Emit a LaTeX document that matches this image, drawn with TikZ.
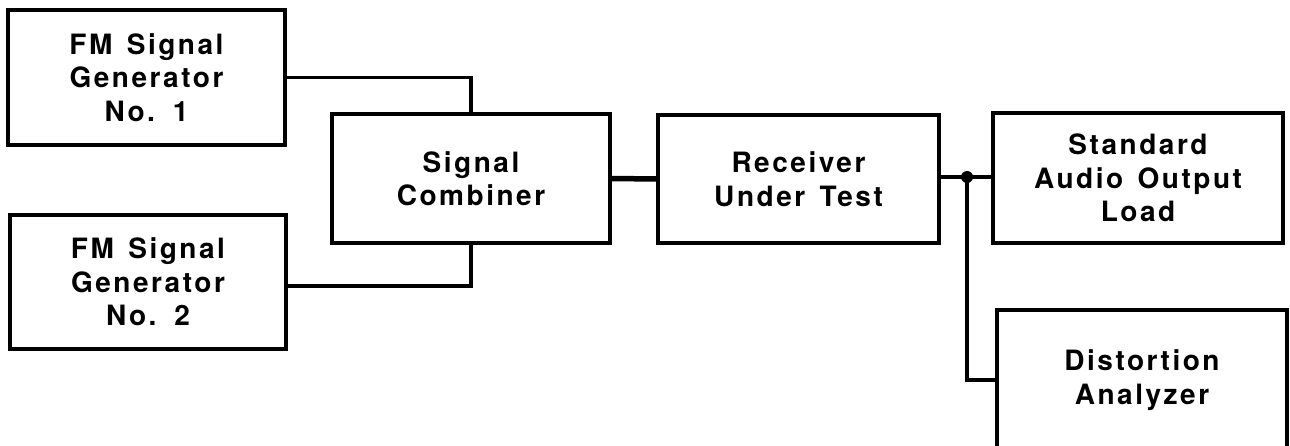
\documentclass[tikz,border=0pt]{standalone}
\usepackage{fontspec}
\setmainfont{TeX Gyre Heros}[LetterSpace=9,WordSpace=1.4]
\begin{document}
\begin{tikzpicture}[x=1pt,y=-1pt,
  blk/.style={draw=black,line width=3.8pt,fill=white,inner sep=0pt,align=center,
    font=\fontsize{28}{33.5}\selectfont\bfseries},
  wire/.style={line width=3.4pt},
  thickwire/.style={line width=5.5pt}]
\clip (0,0) rectangle (1290,446);
\useasboundingbox (0,0) rectangle (1290,446);
\node[blk,minimum width=277pt,minimum height=135pt] (g1) at (146.5,77.5) {FM Signal\\Generator\\No. 1};
\node[blk,minimum width=276pt,minimum height=134pt] (g2) at (148,282) {FM Signal\\Generator\\No. 2};
\node[blk,minimum width=278pt,minimum height=129pt] (comb) at (471,178.5) {Signal\\Combiner};
\node[blk,minimum width=281pt,minimum height=128pt] (rec) at (798.5,179) {Receiver\\Under Test};
\node[blk,minimum width=290pt,minimum height=130pt] (std) at (1138,178) {Standard\\Audio Output\\Load};
\node[blk,minimum width=290pt,minimum height=140pt] (dist) at (1142,380) {Distortion\\Analyzer};
\coordinate (dot) at (967,177);
\draw[wire] (g1.east) -| (comb.north);
\draw[wire] (g2.east |- 0,286) -| (comb.south);
\draw[thickwire] (comb.east) -- (rec.west);
\draw[wire] (rec.east |- dot) -- (dot) -- (std.west |- dot);
\draw[wire] (dot) |- (dist.west);
\fill (dot) circle (6pt);
\end{tikzpicture}
\end{document}
